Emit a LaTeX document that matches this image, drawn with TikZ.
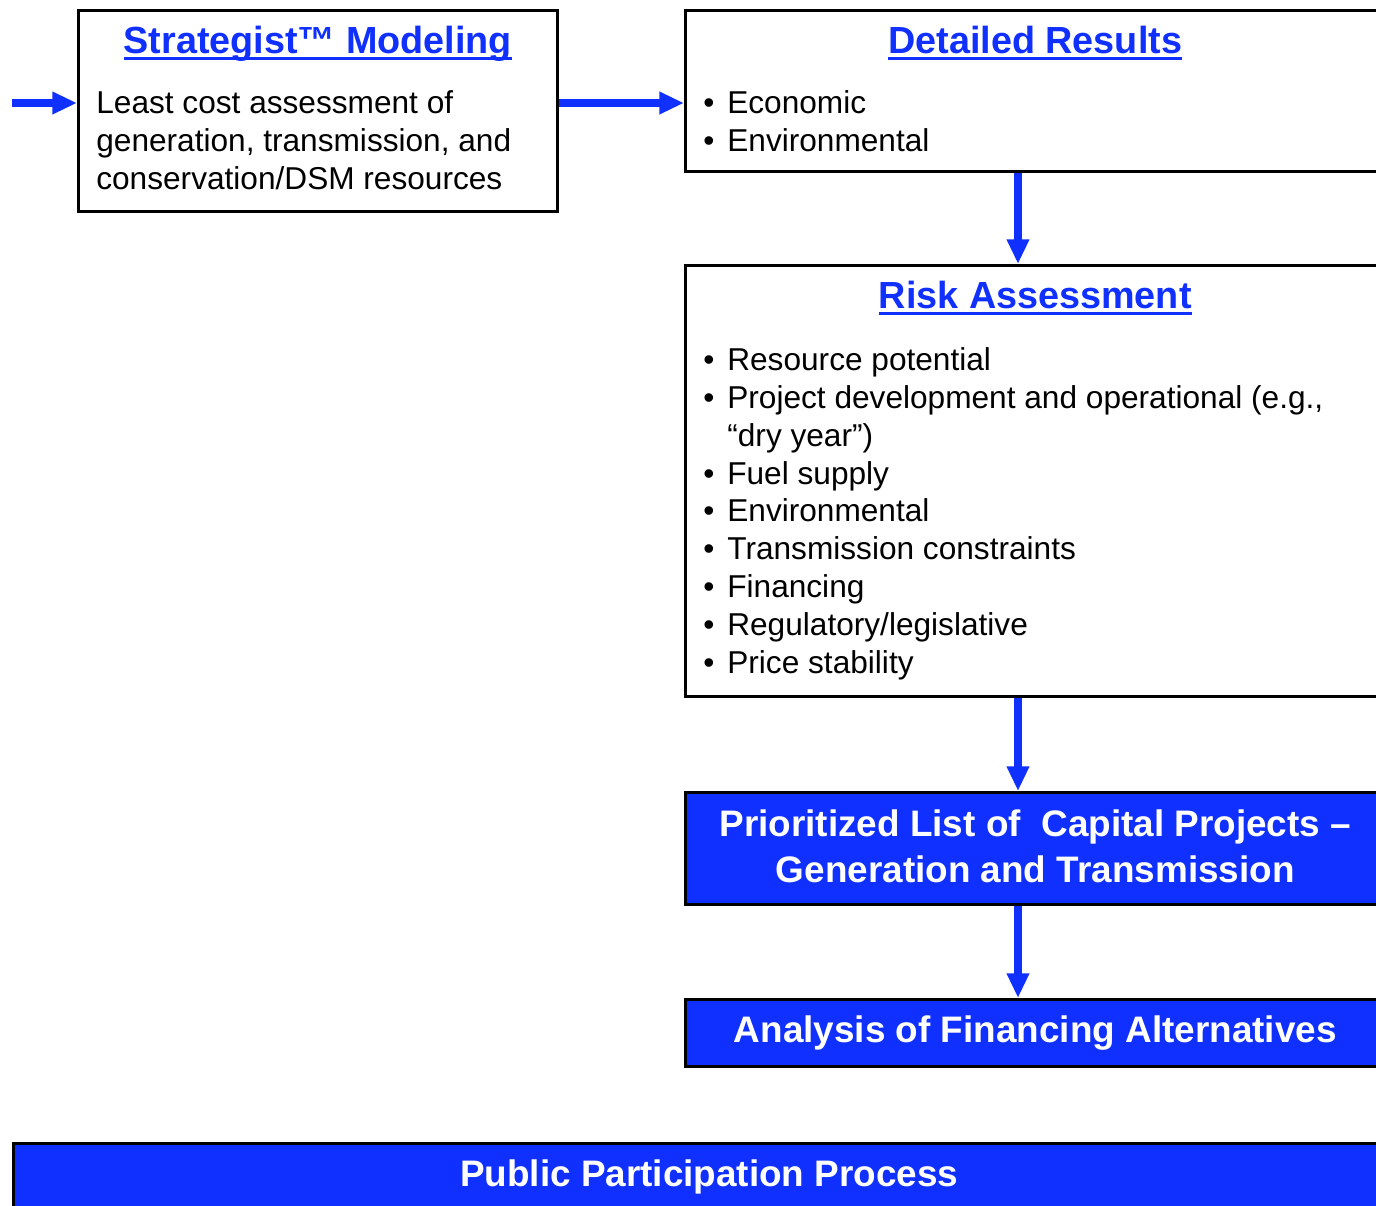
\documentclass[tikz,border=0pt]{standalone}
\usepackage{fontspec}
\setmainfont{Liberation Sans}
\usetikzlibrary{arrows.meta}
\definecolor{flowblue}{RGB}{16,48,255}
\newcommand{\itm}{\makebox[0.48cm][l]{\textbullet}}
\newcommand{\headline}[1]{\setbox0\hbox{#1}\rlap{\rule[-0.19em]{\wd0}{0.08em}}\box0}
\tikzset{
  box/.style={draw=black, line width=1.5pt, rectangle, inner sep=0pt, anchor=north west},
  bluebox/.style={box, fill=flowblue},
  title/.style={text=flowblue, font=\fontsize{21.5}{25}\selectfont\bfseries, inner sep=0pt, anchor=base},
  body/.style={font=\fontsize{18}{21.5}\selectfont, align=left, inner sep=0pt, anchor=base west},
  banner/.style={text=white, font=\fontsize{21}{26}\selectfont\bfseries, align=center, inner sep=0pt},
  flow/.style={draw=flowblue, line width=4pt, -{Triangle[length=14pt,width=12pt]}},
}
\begin{document}
\begin{tikzpicture}[x=0.02cm, y=-0.02cm]

	\useasboundingbox (0,0) rectangle (1376,1205);
	\clip (0,0) rectangle (1376,1205);

	% modeling (text nodes sit on their last baseline)
	\node[box, minimum width=9.58cm, minimum height=4.02cm] (strat) at (77,9) {};
	\node[title] (stratTitle) at ([yshift=-0.88cm]strat.north) {\headline{Strategist™ Modeling}};
	\node[body] (stratText) at (96,189) {Least cost assessment of\\generation, transmission, and\\conservation/DSM resources};

	% results
	\node[box, minimum width=14cm, minimum height=3.22cm] (detail) at (684,9) {};
	\node[title] (detailTitle) at ([yshift=-0.88cm]detail.north) {\headline{Detailed Results}};
	\node[body] (detailList) at (703,151) {\itm Economic\\\itm Environmental};

	% risk
	\node[box, minimum width=14cm, minimum height=8.62cm] (risk) at (684,264) {};
	\node[title] (riskTitle) at ([yshift=-0.88cm]risk.north) {\headline{Risk Assessment}};
	\node[body] (riskList) at (703,673) {\itm Resource potential\\
		\itm Project development and operational (e.g.,\\
		\phantom{\itm}“dry year”)\\
		\itm Fuel supply\\
		\itm Environmental\\
		\itm Transmission constraints\\
		\itm Financing\\
		\itm Regulatory/legislative\\
		\itm Price stability};

	% projects
	\node[bluebox, minimum width=14cm, minimum height=2.24cm] (prio) at (684,791) {};
	\node[banner] (prioText) at ([yshift=0.04cm]prio.center) {Prioritized List of\ \ Capital Projects –\\Generation and Transmission};

	% financing
	\node[bluebox, minimum width=14cm, minimum height=1.34cm] (fin) at (684,998) {};
	\node[banner] (finText) at (fin.center) {Analysis of Financing Alternatives};

	% public
	\node[bluebox, minimum width=27.84cm, minimum height=1.34cm] (pub) at (12,1142) {};
	\node[banner] (pubText) at (pub.center) {Public Participation Process};

	% arrows
	\coordinate (feed) at (12,103);
	\coordinate (spine) at (1018,0);
	\draw[flow] (feed) -- (strat.west |- feed);
	\draw[flow] (strat.east |- feed) -- (detail.west |- feed);
	\draw[flow] (detail.south -| spine) -- (risk.north -| spine);
	\draw[flow] (risk.south -| spine) -- (prio.north -| spine);
	\draw[flow] (prio.south -| spine) -- (fin.north -| spine);

\end{tikzpicture}
\end{document}
